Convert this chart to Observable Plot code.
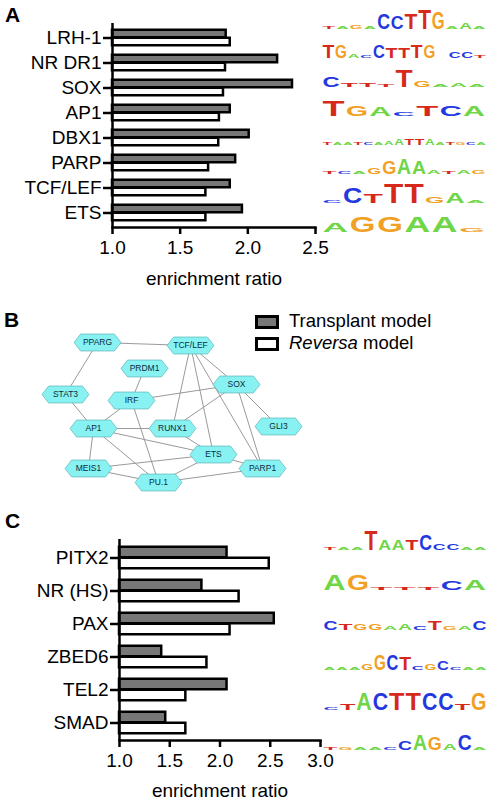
<!DOCTYPE html>
<html><head><meta charset="utf-8">
<script src="https://cdn.jsdelivr.net/npm/d3@7"></script>
<script src="https://cdn.jsdelivr.net/npm/@observablehq/plot@0.6"></script>
<style>
body{margin:0;background:#fff;}
#root{position:relative;width:492px;height:800px;overflow:hidden;font-family:"Liberation Sans",Arial,sans-serif;color:#000;}
.abs{position:absolute;}
.panel{position:absolute;font-weight:bold;font-size:21px;line-height:21px;}
.leg{position:absolute;font-size:18.5px;line-height:18.5px;white-space:nowrap;}
.sw{position:absolute;width:18px;height:8px;border:3px solid #000;}
</style></head><body><div id="root"></div>
<script>
// ---- Panel A data ----
const catsA = ["LRH-1","NR DR1","SOX","AP1","DBX1","PARP","TCF/LEF","ETS"];
const transplantA = [1.84,2.22,2.33,1.87,2.01,1.91,1.87,1.96];
const reversaA = [1.87,1.835,1.82,1.79,1.785,1.71,1.69,1.69];
const ticksA = [1.0,1.5,2.0,2.5];
const logosA = [
  "t1 a1 g2 a1 C7 C6 T7 T9 G8 a1 A3 a1",
  "T6 G6 a2 c1 C6 T5 T5 T6 G6 a0 c3 C3 t1",
  "C5 t2 t2 t1 T8 G3 a1 A2 a1",
  "T7 G5 A4 c2 T5 C5 A5",
  "t1 a1 a1 t1 c1 a1 a2 A3 T3 T3 A3 a1 t1 g1 c1 a1",
  "t1 c1 a1 g3 G6 A7 A6 a2 t1 a2 g2",
  "c1 C7 T4 T9 T9 G3 A5 a1",
  "A4 G7 G7 A7 A7 g2"
];
// ---- Panel C data ----
const catsC = ["PITX2","NR (HS)","PAX","ZBED6","TEL2","SMAD"];
const transplantC = [2.07,1.82,2.54,1.42,2.07,1.46];
const reversaC = [2.49,2.19,2.10,1.87,1.66,1.66];
const ticksC = [1.0,1.5,2.0,2.5,3.0];
const logosC = [
  "t1 a1 a1 T9 A5 A5 T5 C7 c3 c3 a1 a1",
  "A7 G7 t1 t1 t1 C4 A5",
  "C4 T3 G3 G3 A2 A3 c2 T4 g2 a2 C4",
  "a1 a1 a1 g3 G7 C7 T6 c2 g3 C4 c1 a1 a1",
  "c1 t3 A8 C8 T8 T8 C8 C8 t3 G8",
  "t1 g1 a1 a1 c1 C4 A7 G6 a3 C7 a1"
];
// ---- Panel B network ----
const nodeNames = ["PPARG","TCF/LEF","PRDM1","SOX","STAT3","IRF","AP1","RUNX1","GLI3","ETS","MEIS1","PARP1","PU.1"];
const nodeLayoutX = [97,190,144,236,65,131,93,172,278,213,88,262,158];
const nodeLayoutY = [42,45,68,84,94,100,128,128,126,154,168,168,182];
const edgeFrom = ["PPARG","PPARG","STAT3","PRDM1","IRF","IRF","IRF","TCF/LEF","TCF/LEF","TCF/LEF","TCF/LEF","SOX","SOX","SOX","AP1","AP1","AP1","AP1","RUNX1","MEIS1","MEIS1","ETS","ETS","PU.1"];
const edgeTo   = ["TCF/LEF","STAT3","AP1","IRF","AP1","SOX","PU.1","SOX","RUNX1","ETS","PARP1","RUNX1","GLI3","PARP1","RUNX1","ETS","PU.1","MEIS1","ETS","ETS","PU.1","PU.1","PARP1","PARP1"];
// ---- Legend ----
const seriesNames = ["Transplant model","Reversa model"];
const seriesFill = ["#777777","#ffffff"];
const letterColors = {A:"#6fd647", C:"#2438e0", G:"#f2a024", T:"#d7281c"};

const FONT = "Liberation Sans, Arial, sans-serif";
const root = document.getElementById("root");
function place(el, left, top) {
  const w = document.createElement("div");
  w.className = "abs"; w.style.left = left + "px"; w.style.top = top + "px";
  w.appendChild(el); root.appendChild(w); return w;
}

function barPanel({cats, t, r, domain, ticks, height, mt, mb, ml, mr, barH, labelDy}) {
  const rows = cats.map((c, i) => ({cat: c, t: t[i], r: r[i]}));
  const half = (height - mt - mb) / cats.length / 2;
  return Plot.plot({
    width: 492, height, marginTop: mt, marginBottom: mb, marginLeft: ml, marginRight: mr,
    style: {fontFamily: FONT, fontSize: "19px", color: "#000", background: "transparent"},
    x: {domain},
    y: {domain: cats, padding: 0},
    marks: [
      Plot.barX(rows, {y: "cat", x1: () => domain[0], x2: "t", fill: seriesFill[0], stroke: "#000", strokeWidth: 2.5, insetTop: half - barH, insetBottom: half}),
      Plot.barX(rows, {y: "cat", x1: () => domain[0], x2: "r", fill: seriesFill[1], stroke: "#000", strokeWidth: 2.5, insetTop: half, insetBottom: half - barH}),
      Plot.ruleX([domain[0]], {stroke: "#000", strokeWidth: 2.5}),
      Plot.frame({anchor: "bottom", stroke: "#000", strokeWidth: 2.5}),
      Plot.axisX({ticks, tickFormat: d3.format(".1f"), tickSize: 7, tickPadding: 6, strokeWidth: 2.5, label: null, fontSize: 19}),
      Plot.axisY({tickSize: 9, tickPadding: 2, strokeWidth: 2.5, label: null, fontSize: 19}),
      Plot.text(["enrichment ratio"], {text: d => d, frameAnchor: "bottom", lineAnchor: "bottom", dy: labelDy, fontSize: 19})
    ]
  });
}

function logoPanel({cats, specs, height, mt, mb, x0, x1, hMax, dy}) {
  const letters = [];
  specs.forEach((s, k) => {
    const items = s.split(" "); const n = items.length;
    items.forEach((it, i) => {
      const d = +it.slice(1);
      if (d > 0) letters.push({cat: cats[k], pos: i / n, w: 1 / n, ch: it[0].toUpperCase(), d});
    });
  });
  const svg = Plot.plot({
    width: 492, height, marginTop: mt, marginBottom: mb, marginLeft: x0, marginRight: 492 - x1,
    style: {fontFamily: FONT, background: "transparent"},
    x: {domain: [0, 1], axis: null},
    y: {domain: cats, padding: 0, axis: null},
    color: {type: "identity"},
    marks: [
      Plot.text(letters, {x: "pos", y: "cat", text: "ch", fill: d => letterColors[d.ch], textAnchor: "start", lineAnchor: "bottom", dy, fontSize: 20, fontWeight: "bold"})
    ]
  });
  return {svg, letters, slotPx: x1 - x0, hMax};
}
function shapeLogo({svg, letters, slotPx, hMax}) {
  const texts = svg.querySelectorAll('g[aria-label="text"] text');
  texts.forEach((el, i) => {
    const L = letters[i]; if (!L) return;
    const len = el.getComputedTextLength() || 14;
    const sx = (L.w * slotPx * 0.94) / len;
    const h = Math.max(L.d / 9 * hMax, 1.5);
    const sy = h / (0.72 * 20);
    el.setAttribute("transform", (el.getAttribute("transform") || "") + ` scale(${sx},${sy})`);
  });
}

// Panel A
const pA = barPanel({cats: catsA, t: transplantA, r: reversaA, domain: [1, 2.5], ticks: ticksA, height: 290, mt: 23, mb: 63, ml: 112, mr: 177, barH: 8, labelDy: 57});
place(pA, 0, 0);
const lA = logoPanel({cats: catsA, specs: logosA, height: 290, mt: 23, mb: 63, x0: 322, x1: 486, hMax: 20, dy: 4});
place(lA.svg, 0, 0); shapeLogo(lA);

// Panel C
const pC = barPanel({cats: catsC, t: transplantC, r: reversaC, domain: [1, 3], ticks: ticksC, height: 370, mt: 109, mb: 60, ml: 119, mr: 172, barH: 11, labelDy: 56});
place(pC, 0, 430);
const lC = logoPanel({cats: catsC, specs: logosC, height: 370, mt: 109, mb: 60, x0: 323, x1: 487, hMax: 20, dy: 9});
place(lC.svg, 0, 430); shapeLogo(lC);

// Panel B network
const hexSymbol = {
  draw(ctx, size) {
    const r = Math.sqrt(size / Math.PI), hh = r * 0.36, ind = r * 0.28;
    ctx.moveTo(-r, 0); ctx.lineTo(-r + ind, -hh); ctx.lineTo(r - ind, -hh);
    ctx.lineTo(r, 0); ctx.lineTo(r - ind, hh); ctx.lineTo(-r + ind, hh); ctx.closePath();
  }
};
const nodes = nodeNames.map((n, i) => ({name: n, x: nodeLayoutX[i], y: nodeLayoutY[i]}));
const byName = Object.fromEntries(nodes.map(d => [d.name, d]));
const links = edgeFrom.map((a, i) => ({a: byName[a], b: byName[edgeTo[i]]}));
const pB = Plot.plot({
  width: 320, height: 200, margin: 0,
  style: {fontFamily: FONT, background: "transparent"},
  x: {domain: [0, 320], range: [0, 320], axis: null},
  y: {domain: [0, 200], range: [0, 200], axis: null},
  marks: [
    Plot.link(links, {x1: d => d.a.x, y1: d => d.a.y, x2: d => d.b.x, y2: d => d.b.y, stroke: "#9a9a9a", strokeWidth: 1}),
    Plot.dot(nodes, {x: "x", y: "y", r: 23.5, symbol: hexSymbol, fill: "#88f2f2", stroke: "#5fb5b5", strokeWidth: 0.7}),
    Plot.text(nodes, {x: "x", y: "y", text: "name", fontSize: 8.5, fill: "#0b2b3b"})
  ]
});
place(pB, 0, 300);

// Legend
const legTops = [315, 337];
seriesNames.forEach((name, i) => {
  const sw = document.createElement("div"); sw.className = "sw";
  sw.style.left = "255px"; sw.style.top = legTops[i] + "px"; sw.style.background = seriesFill[i];
  root.appendChild(sw);
  const t = document.createElement("div"); t.className = "leg";
  t.style.left = "289px"; t.style.top = (legTops[i] - 3) + "px";
  const parts = name.split(" ");
  if (i === 1) t.innerHTML = `<i>${parts[0]}</i> ${parts.slice(1).join(" ")}`; else t.textContent = name;
  root.appendChild(t);
});

// Panel letters
[["A", 5, 4], ["B", 4, 309], ["C", 5, 510]].forEach(([s, x, y]) => {
  const d = document.createElement("div"); d.className = "panel";
  d.style.left = x + "px"; d.style.top = y + "px"; d.textContent = s; root.appendChild(d);
});
</script></body></html>
